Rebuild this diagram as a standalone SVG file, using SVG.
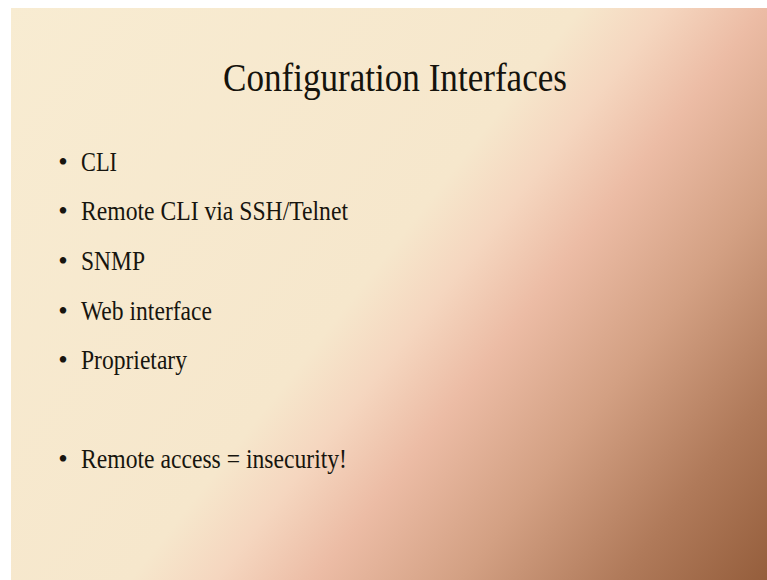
<svg xmlns="http://www.w3.org/2000/svg" width="767" height="580" viewBox="0 0 767 580">
  <defs>
    <!-- diagonal slide background: cream to rose to brown -->
    <linearGradient id="bg" gradientUnits="userSpaceOnUse" x1="0" y1="0" x2="755" y2="594">
      <stop offset="0" stop-color="#f8ecd2"/>
      <stop offset="0.48" stop-color="#f6e7cc"/>
      <stop offset="0.55" stop-color="#f5d6bf"/>
      <stop offset="0.63" stop-color="#ecbca5"/>
      <stop offset="0.75" stop-color="#d3a083"/>
      <stop offset="0.88" stop-color="#b07a5a"/>
      <stop offset="1" stop-color="#955e3c"/>
    </linearGradient>
    <style>
      .title { font-family: "Liberation Serif", "Times New Roman", serif; font-size: 41px; fill: #15130c; }
      .item { font-family: "Liberation Serif", "Times New Roman", serif; font-size: 27px; fill: #17150e; }
      .dot { font-family: "Liberation Serif", "Times New Roman", serif; font-size: 27px; fill: #17150e; text-anchor: middle; }
    </style>
  </defs>

  <rect x="0" y="0" width="767" height="580" fill="#ffffff"/>
  <rect x="11" y="8" width="756" height="572" fill="url(#bg)"/>

  <g id="title">
    <text class="title" x="223" y="91" textLength="344" lengthAdjust="spacingAndGlyphs">Configuration Interfaces</text>
  </g>

  <g id="bullets">
    <g id="item-cli">
      <text class="dot" x="63" y="171">•</text>
      <text class="item" x="81" y="171" textLength="36" lengthAdjust="spacingAndGlyphs">CLI</text>
    </g>
    <g id="item-remote-cli">
      <text class="dot" x="63" y="220">•</text>
      <text class="item" x="81" y="220" textLength="267" lengthAdjust="spacingAndGlyphs">Remote CLI via SSH/Telnet</text>
    </g>
    <g id="item-snmp">
      <text class="dot" x="63" y="270">•</text>
      <text class="item" x="81" y="270" textLength="64" lengthAdjust="spacingAndGlyphs">SNMP</text>
    </g>
    <g id="item-web">
      <text class="dot" x="63" y="320">•</text>
      <text class="item" x="81" y="320" textLength="131" lengthAdjust="spacingAndGlyphs">Web interface</text>
    </g>
    <g id="item-proprietary">
      <text class="dot" x="63" y="369">•</text>
      <text class="item" x="81" y="369" textLength="106" lengthAdjust="spacingAndGlyphs">Proprietary</text>
    </g>
    <g id="item-remote-access">
      <text class="dot" x="63" y="468">•</text>
      <text class="item" x="81" y="468" textLength="266" lengthAdjust="spacingAndGlyphs">Remote access = insecurity!</text>
    </g>
  </g>
</svg>
